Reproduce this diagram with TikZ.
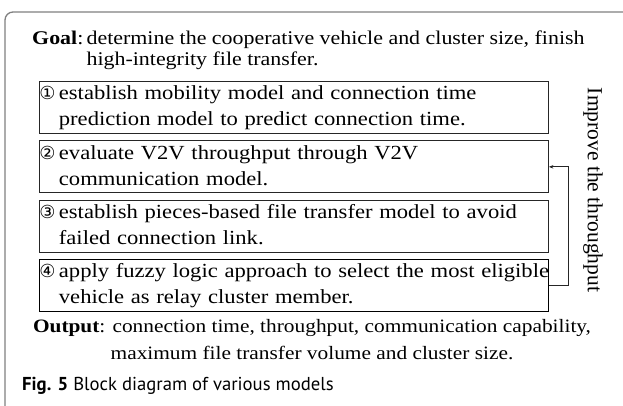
\documentclass[tikz,border=0pt]{standalone}
\usepackage{fontspec}
\setmainfont{Liberation Serif}[FakeStretch=1.13]
\newfontfamily\rotfont{Liberation Serif}
\newfontfamily\capfont{PT Sans}
\newfontfamily\circfont{DejaVu Sans}
\usetikzlibrary{positioning, arrows.meta}
\newcommand{\circno}[1]{{\circfont\fontsize{18}{18}\selectfont #1}}
\tikzset{
  modelbox/.style={draw=black!85, line width=0.9pt, minimum height=52pt,
    text width=509pt, inner xsep=3pt, inner ysep=0pt, align=left},
  bodytext/.style={font=\fontsize{20}{26}\selectfont, inner sep=0pt}
}
\begin{document}
\begin{tikzpicture}[x=1pt, y=-1pt]
\useasboundingbox (0,0) rectangle (623,406);
\draw [gray, line width=1.3pt, rounded corners=8pt] (5,406) -- (5,12) -- (623,12);
% goal
\node (goal) [bodytext, font=\fontsize{19.4}{21}\selectfont, anchor=north west] at (32,30)
  {\begin{tabular}{@{}l@{\,}l@{}}\textbf{Goal}: & determine the cooperative vehicle and cluster size, finish\\
   & high-integrity file transfer.\end{tabular}};
% the four models
\node (box1) [modelbox, bodytext, anchor=north west] at (39,81)
  {\begin{tabular}{@{}l@{\,}l@{}}\circno{①} & establish mobility model and connection time\\
   & prediction model to predict connection time.\end{tabular}};
\node (box2) [modelbox, bodytext, below=6.5pt of box1]
  {\begin{tabular}{@{}l@{\,}l@{}}\circno{②} & evaluate V2V throughput through V2V\\
   & communication model.\end{tabular}};
\node (box3) [modelbox, bodytext, below=6.5pt of box2]
  {\begin{tabular}{@{}l@{\,}l@{}}\circno{③} & establish pieces-based file transfer model to avoid\\
   & failed connection link.\end{tabular}};
\node (box4) [modelbox, bodytext, draw=black, below=6.5pt of box3]
  {\begin{tabular}{@{}l@{\,}l@{}}\circno{④} & apply fuzzy logic approach to select the most eligible\\
   & vehicle as relay cluster member.\end{tabular}};
% feedback
\draw [-{Stealth[length=4.5pt, width=3.5pt]}, black!85, line width=0.8pt] (box4.east) -- ++(19,0) |- (box2.east);
\node (improve) [inner sep=0pt, font=\rotfont\fontsize{21.5}{22}\selectfont, rotate=-90] at (593,190) {Improve the throughput};
% output
\node (output) [bodytext, font=\fontsize{18.9}{27}\selectfont, anchor=north] at (312,313)
  {\begin{tabular}{@{}c@{}}\textbf{Output}: connection time, throughput, communication capability,\\
   maximum file transfer volume and cluster size.\end{tabular}};
\node (caption) [anchor=west, inner sep=0pt, font=\capfont\fontsize{18.7}{22}\selectfont] at (22,386)
  {\textbf{Fig. 5} Block diagram of various models};
\end{tikzpicture}
\end{document}
